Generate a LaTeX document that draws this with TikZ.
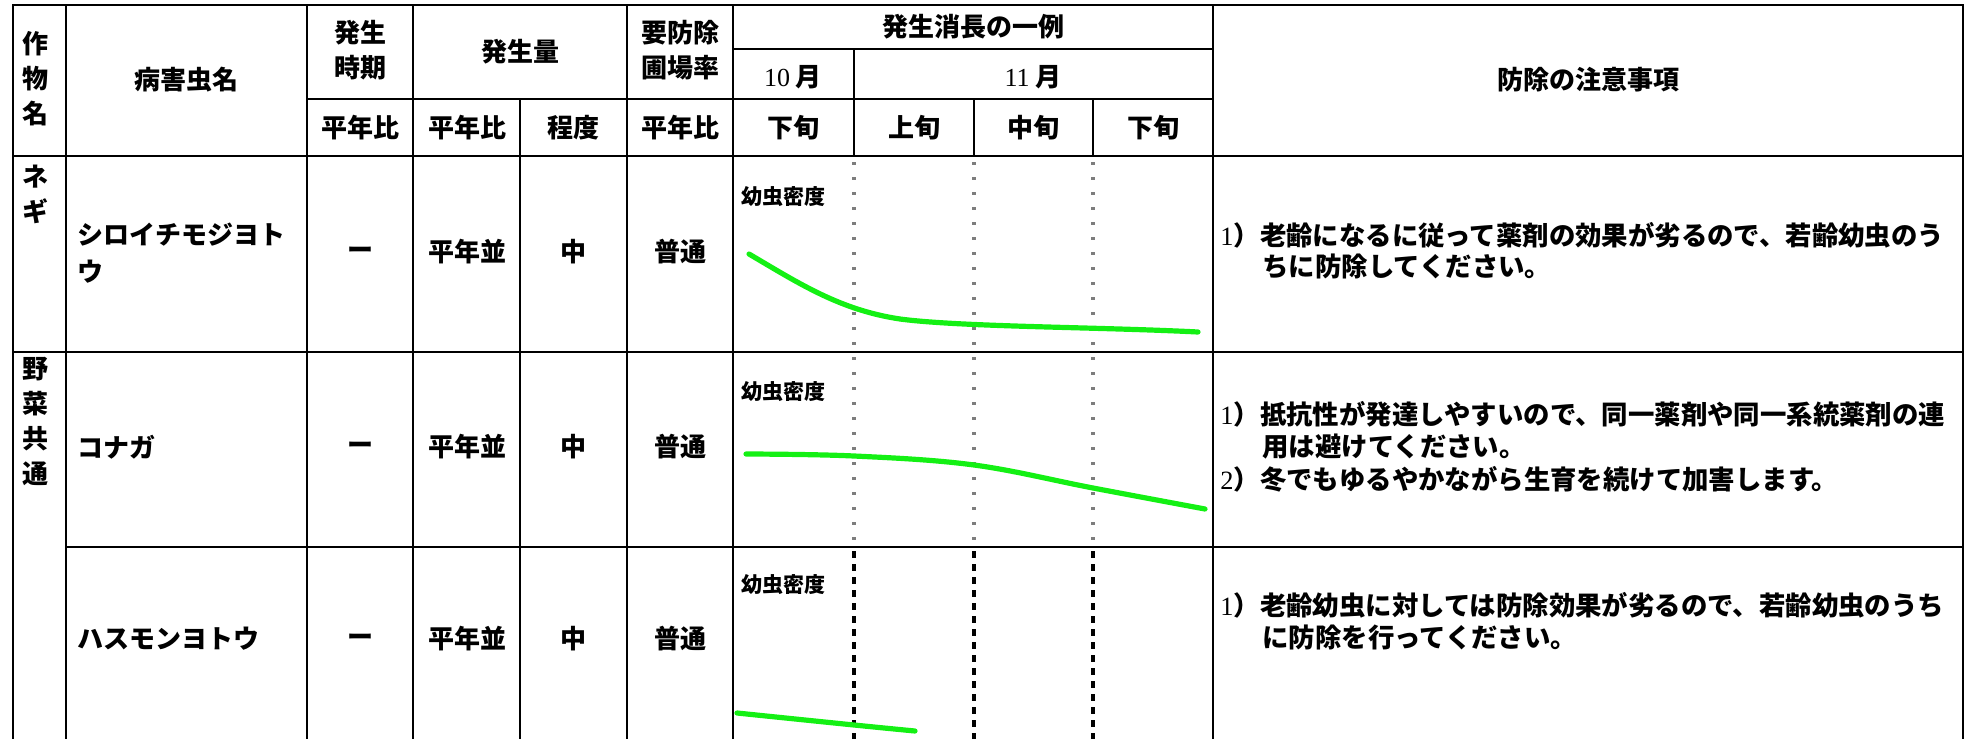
\documentclass[tikz,border=0pt]{standalone}
\usepackage{fontspec}
\setmainfont{Noto Sans CJK JP}
\newfontfamily\numfont{Liberation Serif}
\usetikzlibrary{positioning}
\definecolor{curvegreen}{RGB}{20,240,20}
\definecolor{dotgray}{RGB}{125,125,125}

\begin{document}
\begin{tikzpicture}[x=0.5pt, y=-0.5pt]
	\tikzstyle{grid} = [line width=1.4pt, black, line cap=rect]
	\tikzstyle{cell} = [font=\fontsize{13}{17.5}\selectfont\bfseries, inner sep=0pt, align=center]
	\tikzstyle{pest} = [cell, align=left, anchor=west, font=\fontsize{13}{18.5}\selectfont\bfseries]
	\tikzstyle{note} = [font=\fontsize{13.2}{16}\selectfont\bfseries, inner sep=0pt, anchor=base west]
	\tikzstyle{small} = [font=\fontsize{10.5}{12}\selectfont\bfseries, inner sep=0pt, anchor=west]
	\tikzstyle{dotline} = [line width=1.7pt, dotgray, dash pattern=on 1.7pt off 5.8pt]
	\tikzstyle{dashline} = [line width=2pt, black, dash pattern=on 3.5pt off 3pt]
	\tikzstyle{growth} = [line width=2.6pt, curvegreen, line cap=round]
	
	\useasboundingbox (0,0) rectangle (1971,739);
	
	% table frame
	\draw[grid] (13,5) -- (1963,5);
	\draw[grid] (733,49) -- (1213,49);
	\draw[grid] (307,99) -- (1213,99);
	\draw[grid] (13,156) -- (1963,156);
	\draw[grid] (13,352) -- (1963,352);
	\draw[grid] (66,547) -- (1963,547);
	\foreach \x in {13,66,307,413,627,733,1213,1963}
		\draw[grid] (\x,5) -- (\x,739);
	\draw[grid] (520,99) -- (520,739);
	\draw[grid] (854,49) -- (854,156);
	\foreach \x in {974,1093}
		\draw[grid] (\x,99) -- (\x,156);
	
	% period guides
	\foreach \x in {854,974,1093} {
		\draw[dotline] (\x,162) -- (\x,545);
		\draw[dashline] (\x,551) -- (\x,739);
	}
	
	% header
	\node[cell] 	at (35, 79) 		(crop) 		{作\\物\\名};
	\node[cell] 	at (186, 80) 		(name) 		{病害虫名};
	\node[cell] 	at (360, 50) 		(time) 		{発生\\時期};
	\node[cell] 	at (520, 52) 		(amount) 	{発生量};
	\node[cell] 	at (680, 50) 		(need) 		{要防除\\圃場率};
	\node[cell] 	at (360, 128) 		(ratioa) 	{平年比};
	\node[cell] 	at (467, 128) 		(ratiob) 	{平年比};
	\node[cell] 	at (573, 128) 		(degree) 	{程度};
	\node[cell] 	at (680, 128) 		(ratioc) 	{平年比};
	\node[cell] 	at (973, 27) 		(trend) 	{発生消長の一例};
	\node[cell] 	at (793, 77) 		(oct) 		{{\numfont\mdseries 10} 月};
	\node[cell] 	at (1033, 77) 		(nov) 		{{\numfont\mdseries 11} 月};
	\node[cell] 	at (793, 128) 		(octc) 		{下旬};
	\node[cell] 	at (914, 128) 		(nova) 		{上旬};
	\node[cell] 	at (1033, 128) 		(novb) 		{中旬};
	\node[cell] 	at (1153, 128) 		(novc) 		{下旬};
	\node[cell] 	at (1588, 80) 		(notes) 	{防除の注意事項};
	
	% crops
	\node[cell] 	at (35, 194) 		(negi) 		{ネ\\ギ};
	\node[cell] 	at (35, 421) 		(yasai) 	{野\\菜\\共\\通};
	
	% rows
	\node[pest] 	at (77, 253) 		(pa) 		{シロイチモジヨト\\ウ};
	\node[cell] 	at (360, 253) 		(ta) 		{ー};
	\node[cell] 	at (467, 252) 		(ra) 		{平年並};
	\node[cell] 	at (573, 252) 		(da) 		{中};
	\node[cell] 	at (680, 252) 		(na) 		{普通};
	
	\node[pest] 	at (77, 447) 		(pb) 		{コナガ};
	\node[cell] 	at (360, 448) 		(tb) 		{ー};
	\node[cell] 	at (467, 447) 		(rb) 		{平年並};
	\node[cell] 	at (573, 447) 		(db) 		{中};
	\node[cell] 	at (680, 447) 		(nb) 		{普通};
	
	\node[pest] 	at (77, 639) 		(pc) 		{ハスモンヨトウ};
	\node[cell] 	at (360, 640) 		(tc) 		{ー};
	\node[cell] 	at (467, 639) 		(rc) 		{平年並};
	\node[cell] 	at (573, 639) 		(dc) 		{中};
	\node[cell] 	at (680, 639) 		(nc) 		{普通};
	
	% density curves
	\node[small] 	at (741, 197) 		(la) 		{幼虫密度};
	\node[small] 	at (741, 392) 		(lb) 		{幼虫密度};
	\node[small] 	at (741, 585) 		(lc) 		{幼虫密度};
	\draw[growth] (749,254) .. controls (800,284) and (840,310) .. (900,319) .. controls (960,327) and (1100,327) .. (1198,332);
	\draw[growth] plot[smooth, tension=0.6] coordinates {(746,454) (854,456) (974,465) (1093,488) (1205,509)};
	\draw[growth] plot[smooth, tension=0.6] coordinates {(737,713) (854,725) (915,731)};
	
	% notes
	\node[note] 	at (1220, 245) 		(na1) 		{{\numfont\mdseries 1}）老齢になるに従って薬剤の効果が劣るので、若齢幼虫のう};
	\node[note] 	at (1262, 276) 		(na2) 		{ちに防除してください。};
	\node[note] 	at (1220, 424) 		(nb1) 		{{\numfont\mdseries 1}）抵抗性が発達しやすいので、同一薬剤や同一系統薬剤の連};
	\node[note] 	at (1262, 456) 		(nb2) 		{用は避けてください。};
	\node[note] 	at (1220, 489) 		(nb3) 		{{\numfont\mdseries 2}）冬でもゆるやかながら生育を続けて加害します。};
	\node[note] 	at (1220, 615) 		(nc1) 		{{\numfont\mdseries 1}）老齢幼虫に対しては防除効果が劣るので、若齢幼虫のうち};
	\node[note] 	at (1262, 647) 		(nc2) 		{に防除を行ってください。};
\end{tikzpicture}
\end{document}
